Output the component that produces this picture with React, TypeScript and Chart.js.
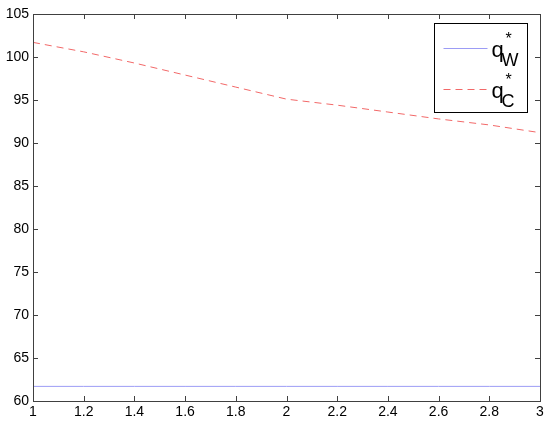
import React, { useEffect, useRef } from 'react';
import { Chart, registerables } from 'chart.js';

Chart.register(...registerables);

// ---- data ----
const xValues = [1.0, 1.2, 1.4, 1.6, 1.8, 2.0, 2.2, 2.4, 2.6, 2.8, 3.0];
const qWValues = [61.7, 61.7, 61.7, 61.7, 61.7, 61.7, 61.7, 61.7, 61.7, 61.7, 61.7];
const qCValues = [101.7, 100.6, 99.3, 97.9, 96.5, 95.1, 94.4, 93.6, 92.8, 92.1, 91.2];
const xTickValues = [1, 1.2, 1.4, 1.6, 1.8, 2, 2.2, 2.4, 2.6, 2.8, 3];
const xTickLabels = ['1', '1.2', '1.4', '1.6', '1.8', '2', '2.2', '2.4', '2.6', '2.8', '3'];
const yTickValues = [60, 65, 70, 75, 80, 85, 90, 95, 100, 105];
const yTickLabels = ['60', '65', '70', '75', '80', '85', '90', '95', '100', '105'];
const legendSubs = ['W', 'C'];

const blueColor = '#9c9cf5';
const redColor = '#f26868';
const frameColor = '#404040';
const fontFamily = '"Liberation Sans", Arial, sans-serif';

const framePlugin = {
  id: 'matlabFrame',
  afterDraw(chart: any) {
    const { ctx, chartArea } = chart;
    const { left, right, top, bottom } = chartArea;
    const xs = chart.scales.x;
    const ys = chart.scales.y;
    ctx.save();
    ctx.strokeStyle = frameColor;
    ctx.lineWidth = 1;
    ctx.strokeRect(Math.round(left) + 0.5, Math.round(top) + 0.5, Math.round(right - left), Math.round(bottom - top));
    const tl = 5;
    ctx.beginPath();
    xTickValues.forEach((v) => {
      const px = Math.round(xs.getPixelForValue(v)) + 0.5;
      ctx.moveTo(px, bottom);
      ctx.lineTo(px, bottom - tl);
      ctx.moveTo(px, top);
      ctx.lineTo(px, top + tl);
    });
    yTickValues.forEach((v) => {
      const py = Math.round(ys.getPixelForValue(v)) + 0.5;
      ctx.moveTo(left, py);
      ctx.lineTo(left + tl, py);
      ctx.moveTo(right, py);
      ctx.lineTo(right - tl, py);
    });
    ctx.stroke();

    // legend
    const bx = Math.round(right - 106) + 0.5;
    const by = Math.round(top + 9) + 0.5;
    const bw = 93;
    const bh = 89;
    ctx.fillStyle = '#ffffff';
    ctx.fillRect(bx, by, bw, bh);
    ctx.strokeStyle = '#000000';
    ctx.strokeRect(bx, by, bw, bh);

    const rows = [
      { color: blueColor, dash: [] as number[], sub: legendSubs[0] },
      { color: redColor, dash: [7, 5], sub: legendSubs[1] },
    ];
    rows.forEach((r, i) => {
      const ly = by + 25 + i * 41;
      ctx.save();
      ctx.beginPath();
      ctx.setLineDash(r.dash);
      ctx.strokeStyle = r.color;
      ctx.lineWidth = 1;
      ctx.moveTo(bx + 9, ly);
      ctx.lineTo(bx + 53, ly);
      ctx.stroke();
      ctx.restore();
      ctx.fillStyle = '#000000';
      ctx.textBaseline = 'alphabetic';
      ctx.textAlign = 'left';
      ctx.font = `22px ${fontFamily}`;
      ctx.fillText('q', bx + 57, ly + 8);
      ctx.font = `16px ${fontFamily}`;
      ctx.fillText('*', bx + 71, ly - 5);
      ctx.font = `18px ${fontFamily}`;
      ctx.fillText(r.sub, bx + 67, ly + 17);
    });
    ctx.restore();
  },
};

export default function App() {
  const ref = useRef<HTMLCanvasElement | null>(null);
  useEffect(() => {
    document.body.style.margin = '0';
    const canvas = ref.current;
    if (!canvas) return;
    const chart = new Chart(canvas, {
      type: 'line',
      data: {
        datasets: [
          {
            label: 'q*W',
            data: xValues.map((x, i) => ({ x, y: qWValues[i] })),
            borderColor: blueColor,
            borderWidth: 1,
            pointRadius: 0,
            fill: false,
          },
          {
            label: 'q*C',
            data: xValues.map((x, i) => ({ x, y: qCValues[i] })),
            borderColor: redColor,
            borderWidth: 1,
            borderDash: [7, 5],
            pointRadius: 0,
            fill: false,
          },
        ],
      },
      options: {
        responsive: false,
        animation: false,
        layout: { padding: { top: 14, right: 10, left: 0, bottom: 0 } },
        plugins: { legend: { display: false }, tooltip: { enabled: false } },
        scales: {
          x: {
            type: 'linear',
            min: 1,
            max: 3,
            afterBuildTicks: (s: any) => {
              s.ticks = xTickValues.map((v) => ({ value: v }));
            },
            afterFit: (s: any) => {
              s.height = 23;
            },
            grid: { display: false, drawTicks: false },
            border: { display: false },
            ticks: {
              padding: 3,
              color: '#000',
              font: { family: fontFamily, size: 14 },
              maxRotation: 0,
              autoSkip: false,
              callback: (v: any) => {
                const i = xTickValues.findIndex((t) => Math.abs(t - v) < 1e-6);
                return i >= 0 ? xTickLabels[i] : '';
              },
            },
          },
          y: {
            type: 'linear',
            min: 60,
            max: 105,
            afterBuildTicks: (s: any) => {
              s.ticks = yTickValues.map((v) => ({ value: v }));
            },
            afterFit: (s: any) => {
              s.width = 33;
            },
            grid: { display: false, drawTicks: false },
            border: { display: false },
            ticks: {
              padding: 4,
              color: '#000',
              font: { family: fontFamily, size: 14 },
              autoSkip: false,
              callback: (v: any) => {
                const i = yTickValues.findIndex((t) => Math.abs(t - v) < 1e-6);
                return i >= 0 ? yTickLabels[i] : '';
              },
            },
          },
        },
      },
      plugins: [framePlugin],
    });
    return () => chart.destroy();
  }, []);
  return (
    <canvas ref={ref} width={550} height={424} style={{ display: 'block', width: 550, height: 424 }} />
  );
}
